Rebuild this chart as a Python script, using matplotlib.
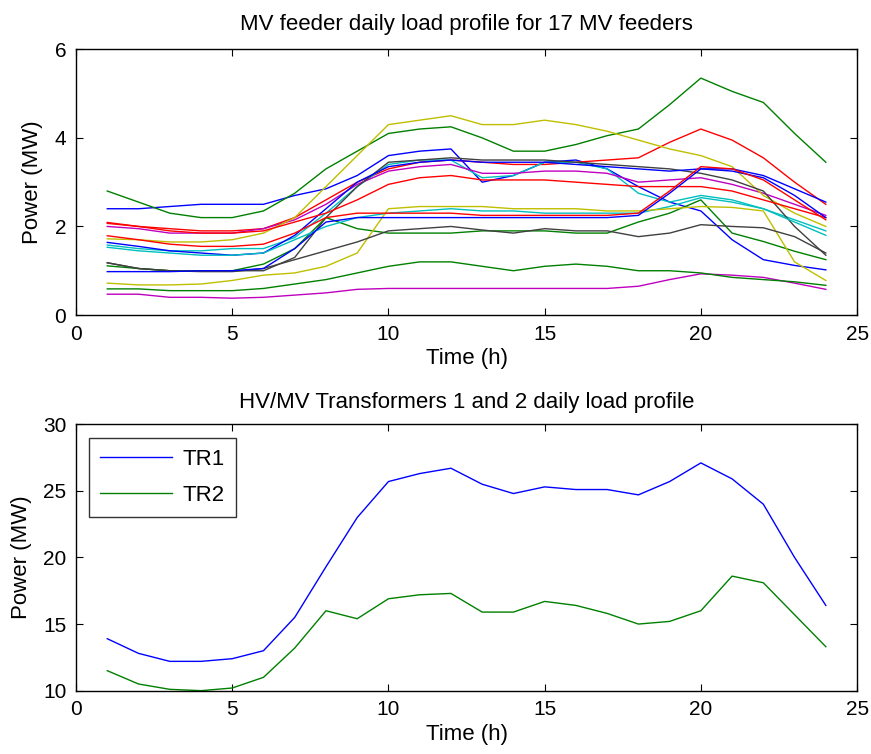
import matplotlib
matplotlib.use('Agg')
import matplotlib.pyplot as plt
import numpy as np

plt.rcParams['font.family'] = ['Liberation Sans', 'DejaVu Sans']

hours = np.arange(1, 25)

# 17 MV feeders, MW
feeder_B1 = [2.4, 2.4, 2.45, 2.5, 2.5, 2.5, 2.7, 2.85, 3.15, 3.6, 3.7, 3.75, 3.0, 3.15, 3.45, 3.5, 3.3, 2.9, 2.55, 2.35, 1.7, 1.25, 1.12, 1.02]
feeder_G1 = [2.8, 2.55, 2.3, 2.2, 2.2, 2.35, 2.75, 3.3, 3.7, 4.1, 4.2, 4.25, 4.0, 3.7, 3.7, 3.85, 4.05, 4.2, 4.75, 5.35, 5.05, 4.8, 4.1, 3.45]
feeder_R1 = [2.09, 2.0, 1.95, 1.9, 1.9, 1.95, 2.2, 2.6, 3.0, 3.3, 3.45, 3.5, 3.45, 3.4, 3.4, 3.45, 3.5, 3.55, 3.9, 4.2, 3.95, 3.55, 3.0, 2.5]
feeder_C1 = [1.58, 1.5, 1.45, 1.45, 1.5, 1.5, 1.75, 2.3, 2.9, 3.4, 3.5, 3.5, 3.1, 3.15, 3.45, 3.45, 3.3, 2.75, 2.55, 2.7, 2.6, 2.4, 2.15, 1.9]
feeder_M1 = [2.0, 1.95, 1.85, 1.85, 1.85, 1.95, 2.15, 2.5, 2.95, 3.25, 3.35, 3.4, 3.2, 3.2, 3.25, 3.25, 3.2, 3.0, 3.05, 3.1, 2.95, 2.75, 2.5, 2.25]
feeder_Y2 = [1.72, 1.7, 1.65, 1.65, 1.7, 1.85, 2.2, 2.9, 3.6, 4.3, 4.4, 4.5, 4.3, 4.3, 4.4, 4.3, 4.15, 3.95, 3.75, 3.6, 3.35, 2.7, 2.3, 2.0]
feeder_K1 = [1.18, 1.05, 1.0, 1.0, 1.0, 1.0, 1.3, 2.2, 2.9, 3.45, 3.5, 3.55, 3.5, 3.5, 3.5, 3.45, 3.4, 3.35, 3.3, 3.2, 3.05, 2.8, 2.0, 1.35]
feeder_B2 = [1.64, 1.55, 1.45, 1.4, 1.35, 1.4, 1.8, 2.4, 3.0, 3.35, 3.45, 3.5, 3.45, 3.45, 3.45, 3.4, 3.35, 3.3, 3.25, 3.3, 3.3, 3.15, 2.85, 2.55]
feeder_G2 = [1.11, 1.05, 1.0, 1.0, 1.0, 1.15, 1.5, 2.2, 1.95, 1.85, 1.85, 1.85, 1.9, 1.9, 1.9, 1.85, 1.85, 2.1, 2.3, 2.6, 1.85, 1.66, 1.44, 1.25]
feeder_R2 = [2.07, 2.0, 1.9, 1.85, 1.85, 1.9, 2.1, 2.3, 2.6, 2.95, 3.1, 3.15, 3.05, 3.05, 3.05, 3.0, 2.95, 2.9, 2.9, 2.9, 2.8, 2.6, 2.4, 2.2]
feeder_C2 = [1.53, 1.45, 1.4, 1.35, 1.35, 1.4, 1.7, 2.0, 2.2, 2.3, 2.35, 2.4, 2.35, 2.35, 2.3, 2.3, 2.3, 2.3, 2.45, 2.65, 2.55, 2.4, 2.1, 1.8]
feeder_M2 = [0.47, 0.47, 0.4, 0.4, 0.38, 0.4, 0.45, 0.5, 0.58, 0.6, 0.6, 0.6, 0.6, 0.6, 0.6, 0.6, 0.6, 0.65, 0.8, 0.93, 0.9, 0.85, 0.72, 0.58]
feeder_Y1 = [0.72, 0.68, 0.68, 0.7, 0.78, 0.9, 0.95, 1.1, 1.4, 2.4, 2.45, 2.45, 2.45, 2.4, 2.4, 2.4, 2.35, 2.35, 2.4, 2.45, 2.43, 2.35, 1.2, 0.78]
feeder_K2 = [1.18, 1.05, 1.0, 0.98, 0.98, 1.05, 1.25, 1.45, 1.65, 1.9, 1.95, 2.0, 1.92, 1.85, 1.95, 1.9, 1.9, 1.77, 1.85, 2.04, 2.0, 1.97, 1.77, 1.4]
feeder_B3 = [0.98, 0.98, 0.98, 1.0, 1.0, 1.05, 1.5, 2.1, 2.2, 2.2, 2.2, 2.2, 2.2, 2.2, 2.2, 2.2, 2.2, 2.25, 2.75, 3.3, 3.25, 3.1, 2.7, 2.2]
feeder_G3 = [0.59, 0.59, 0.55, 0.55, 0.55, 0.6, 0.7, 0.8, 0.95, 1.1, 1.2, 1.2, 1.1, 1.0, 1.1, 1.15, 1.1, 1.0, 1.0, 0.95, 0.85, 0.8, 0.75, 0.67]
feeder_R3 = [1.79, 1.7, 1.6, 1.55, 1.55, 1.6, 1.85, 2.2, 2.3, 2.3, 2.3, 2.3, 2.25, 2.25, 2.25, 2.25, 2.25, 2.3, 2.8, 3.35, 3.3, 3.05, 2.6, 2.15]

feeders = [feeder_B1, feeder_G1, feeder_R1, feeder_C1, feeder_M1, feeder_Y2, feeder_K1,
           feeder_B2, feeder_G2, feeder_R2, feeder_C2, feeder_M2, feeder_Y1, feeder_K2,
           feeder_B3, feeder_G3, feeder_R3]

# HV/MV transformers
tr1 = [13.9, 12.8, 12.2, 12.2, 12.4, 13.0, 15.5, 19.3, 23.0, 25.7, 26.3, 26.7, 25.5, 24.8, 25.3, 25.1, 25.1, 24.7, 25.7, 27.1, 25.9, 24.0, 20.0, 16.4]
tr2 = [11.5, 10.5, 10.1, 10.0, 10.2, 11.0, 13.2, 16.0, 15.4, 16.9, 17.2, 17.3, 15.9, 15.9, 16.7, 16.4, 15.8, 15.0, 15.2, 16.0, 18.6, 18.1, 15.7, 13.3]

# old matlab color order
matlab_colors = [(0, 0, 1), (0, 0.5, 0), (1, 0, 0), (0, 0.75, 0.75),
                 (0.75, 0, 0.75), (0.75, 0.75, 0), (0.25, 0.25, 0.25)]

fs = 16

fig = plt.figure(figsize=(8.71, 7.54), dpi=100)
ax1 = fig.add_axes([0.0873, 0.5822, 0.8967, 0.3524])
ax2 = fig.add_axes([0.0873, 0.0840, 0.8967, 0.3533])

for i, f in enumerate(feeders):
    ax1.plot(hours, f, color=matlab_colors[i % 7], lw=1.0)
ax1.set_xlim(0, 25)
ax1.set_ylim(0, 6)
ax1.set_xticks([0, 5, 10, 15, 20, 25])
ax1.set_yticks([0, 2, 4, 6])
ax1.set_title('MV feeder daily load profile for 17 MV feeders', fontsize=fs, pad=14)
ax1.set_xlabel('Time (h)', fontsize=fs, labelpad=3)
ax1.set_ylabel('Power (MW)', fontsize=fs, labelpad=8)

ax2.plot(hours, tr1, color=(0, 0, 1), lw=1.0, label='TR1')
ax2.plot(hours, tr2, color=(0, 0.5, 0), lw=1.0, label='TR2')
ax2.set_xlim(0, 25)
ax2.set_ylim(10, 30)
ax2.set_xticks([0, 5, 10, 15, 20, 25])
ax2.set_yticks([10, 15, 20, 25, 30])
ax2.set_title('HV/MV Transformers 1 and 2 daily load profile', fontsize=fs, pad=12)
ax2.set_xlabel('Time (h)', fontsize=fs, labelpad=3)
ax2.set_ylabel('Power (MW)', fontsize=fs, labelpad=8)
leg = ax2.legend(loc='upper left', fontsize=fs, fancybox=False, edgecolor='black',
                 handlelength=3.2, borderpad=0.5, labelspacing=0.7,
                 borderaxespad=0.6, handletextpad=0.5)
leg.get_frame().set_linewidth(1.0)

for ax in (ax1, ax2):
    ax.tick_params(direction='in', top=True, right=True, labelsize=fs - 1, length=5, pad=7)
    for s in ax.spines.values():
        s.set_linewidth(1.0)

fig.savefig('out.png', dpi=100)
